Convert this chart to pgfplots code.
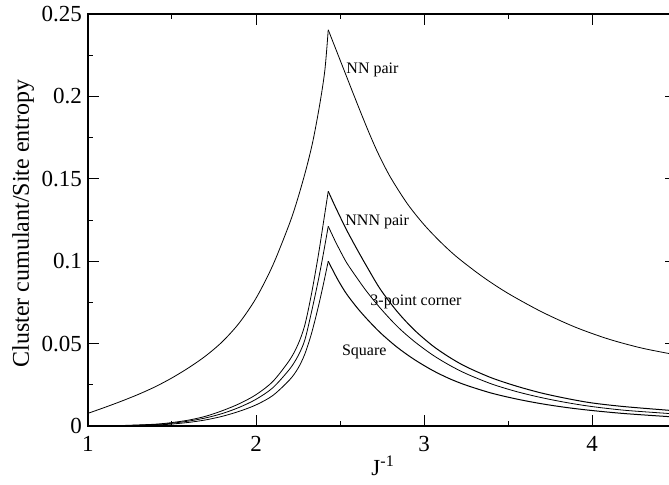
\documentclass[border=0pt]{standalone}
\usepackage{fontspec}
\setmainfont{Liberation Serif}
\usepackage{pgfplots}
\pgfplotsset{compat=1.18}
\begin{document}
\begin{tikzpicture}
\begin{axis}[
  scale only axis, width=294pt, height=206pt,
  xmin=1, xmax=4.5, ymin=0, ymax=0.25,
  xtick={1,2,3,4}, xticklabels={1,2,3,4},
  ytick={0,0.05,0.1,0.15,0.2,0.25}, yticklabels={0,0.05,0.1,0.15,0.2,0.25},
  minor x tick num=1, minor y tick num=1,
  tick align=inside, major tick length=5.5pt, minor tick length=2.7pt,
  axis line style={line width=1pt},
  every tick/.style={black, line width=0.5pt},
  tick label style={font=\fontsize{11.5}{13}\selectfont},
  xticklabel style={yshift=-1.7pt},
  yticklabel style={xshift=0.5pt},
  xlabel={J\textsuperscript{-1}},
  ylabel={Cluster cumulant/Site entropy},
  xlabel style={font=\fontsize{11.5}{13}\selectfont, at={(axis description cs:0.502,-0.097)}, anchor=center},
  ylabel style={font=\fontsize{12}{14}\selectfont, at={(axis description cs:-0.1105,0.4915)}, anchor=center},
  cycle list={{black, solid, no markers, line width=0.5pt}},
  every axis plot/.append style={smooth, tension=0.5},
]
% NN pair
\addplot coordinates {(1.0,0.0077)(1.1,0.0113)(1.2,0.0151)(1.3,0.0192)(1.4,0.0238)(1.5,0.0292)(1.6,0.0354)(1.7,0.0425)(1.8,0.0512)(1.9,0.0625)(2.0,0.0775)(2.1,0.0975)(2.2,0.1230)(2.25,0.1385)(2.3,0.1565)(2.34,0.1735)(2.38,0.1955)(2.41,0.2160)(2.43,0.2404)};
\addplot coordinates {(2.43,0.2404)(2.48,0.2274)(2.53,0.2144)(2.58,0.2014)(2.63,0.1886)(2.68,0.1762)(2.73,0.1648)(2.80,0.1510)(2.90,0.1350)(3.00,0.1222)(3.10,0.1115)(3.20,0.1022)(3.35,0.0905)(3.50,0.0805)(3.70,0.0693)(3.90,0.0600)(4.10,0.0527)(4.30,0.0472)(4.50,0.0432)};
% NNN pair
\addplot coordinates {(1.0,0.0000)(1.2,0.0003)(1.4,0.0011)(1.5,0.0021)(1.6,0.0036)(1.7,0.0059)(1.8,0.0093)(1.9,0.0135)(2.0,0.0190)(2.1,0.0270)(2.2,0.0400)(2.25,0.0495)(2.29,0.0610)(2.33,0.0800)(2.37,0.1030)(2.40,0.1225)(2.43,0.1424)};
\addplot coordinates {(2.43,0.1424)(2.47,0.1335)(2.50,0.1271)(2.54,0.1188)(2.60,0.1075)(2.66,0.0967)(2.74,0.0830)(2.84,0.0695)(2.94,0.0585)(3.05,0.0488)(3.15,0.0418)(3.25,0.0360)(3.40,0.0293)(3.55,0.0242)(3.70,0.0200)(3.85,0.0167)(4.00,0.0140)(4.20,0.0117)(4.50,0.0092)};
% 3-point corner
\addplot coordinates {(1.0,0.0000)(1.2,0.0002)(1.4,0.0009)(1.5,0.0017)(1.6,0.0030)(1.7,0.0049)(1.8,0.0076)(1.9,0.0113)(2.0,0.0162)(2.1,0.0232)(2.2,0.0345)(2.25,0.0425)(2.29,0.0520)(2.33,0.0690)(2.37,0.0880)(2.40,0.1040)(2.43,0.1212)};
\addplot coordinates {(2.43,0.1212)(2.47,0.1125)(2.50,0.1065)(2.54,0.0990)(2.60,0.0900)(2.66,0.0815)(2.74,0.0715)(2.84,0.0605)(2.94,0.0515)(3.05,0.0432)(3.15,0.0370)(3.25,0.0318)(3.40,0.0256)(3.55,0.0209)(3.70,0.0172)(3.85,0.0142)(4.00,0.0118)(4.20,0.0095)(4.50,0.0073)};
% Square
\addplot coordinates {(1.0,0.0000)(1.2,0.0001)(1.4,0.0006)(1.5,0.0012)(1.6,0.0022)(1.7,0.0037)(1.8,0.0059)(1.9,0.0089)(2.0,0.0128)(2.1,0.0185)(2.2,0.0280)(2.25,0.0350)(2.29,0.0435)(2.33,0.0560)(2.37,0.0720)(2.40,0.0855)(2.43,0.1000)};
\addplot coordinates {(2.43,0.1000)(2.47,0.0920)(2.50,0.0865)(2.54,0.0800)(2.60,0.0720)(2.66,0.0650)(2.74,0.0566)(2.84,0.0478)(2.94,0.0405)(3.05,0.0338)(3.15,0.0288)(3.25,0.0248)(3.40,0.0200)(3.55,0.0164)(3.70,0.0135)(3.85,0.0112)(4.00,0.0094)(4.20,0.0075)(4.50,0.0054)};
\node[anchor=west, inner sep=0pt, font=\fontsize{8}{9}\selectfont] at (axis cs:2.536,0.2158) {NN pair};
\node[anchor=west, inner sep=0pt, font=\fontsize{8}{9}\selectfont] at (axis cs:2.53,0.1238) {NNN pair};
\node[anchor=west, inner sep=0pt, font=\fontsize{8}{9}\selectfont] at (axis cs:2.679,0.0753) {3-point corner};
\node[anchor=west, inner sep=0pt, font=\fontsize{8}{9}\selectfont] at (axis cs:2.51,0.045) {Square};
\end{axis}
\pgfresetboundingbox
\path[use as bounding box] ([shift={(-44pt,-29pt)}]current axis.south west) rectangle ([shift={(290.5pt,213pt)}]current axis.south west);
\end{tikzpicture}
\end{document}
